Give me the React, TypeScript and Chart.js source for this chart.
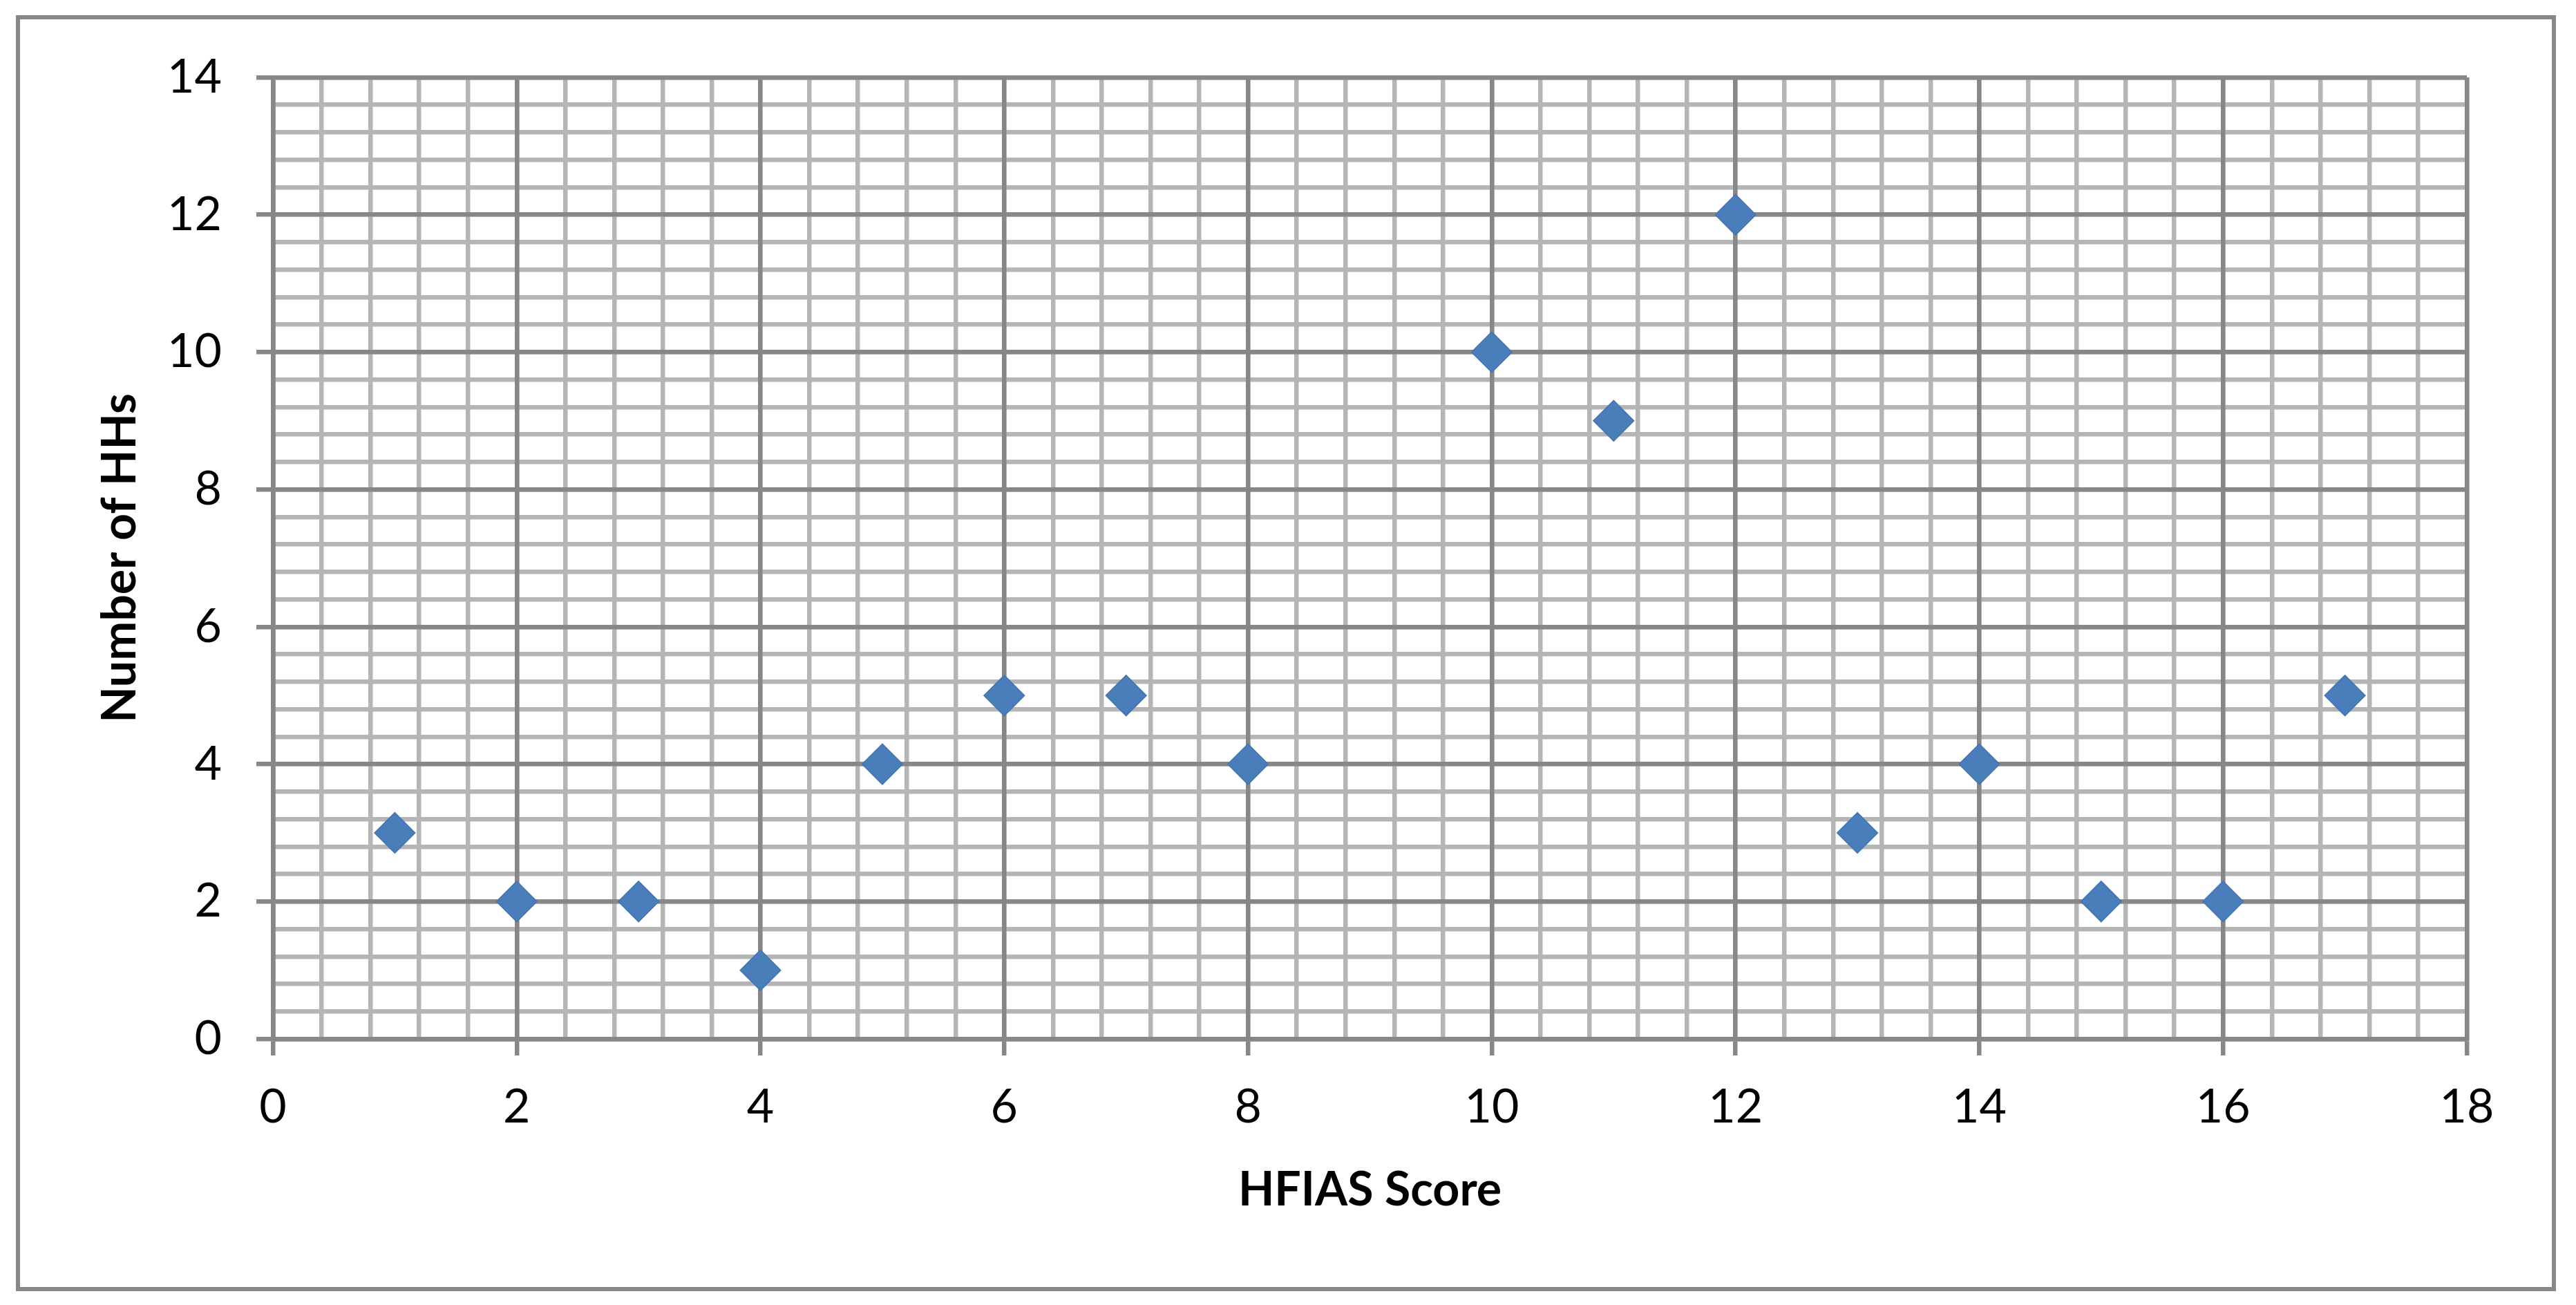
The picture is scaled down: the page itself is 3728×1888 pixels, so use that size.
import React, { useEffect, useRef } from 'react';
import { Chart, registerables } from 'chart.js';

Chart.register(...registerables);

// ---- data ----
const hfiasScores = [1, 2, 3, 4, 5, 6, 7, 8, 10, 11, 12, 13, 14, 15, 16, 17];
const householdCounts = [3, 2, 2, 1, 4, 5, 5, 4, 10, 9, 12, 3, 4, 2, 2, 5];
const xMajorTicks = [0, 2, 4, 6, 8, 10, 12, 14, 16, 18];
const yMajorTicks = [0, 2, 4, 6, 8, 10, 12, 14];
const xTitle = 'HFIAS Score';
const yTitle = 'Number of HHs';

// ---- style ----
const W = 3728;
const H = 1888;
const MAJOR = '#878787';
const MINOR = '#b5b5b5';
const LINE = 6.5;
const MINOR_STEP = 0.4;
const FONT = 'Lato';

const minorTicks = (min: number, max: number) => {
  const out: { value: number }[] = [];
  const n = Math.round((max - min) / MINOR_STEP);
  for (let i = 0; i <= n; i++) out.push({ value: min + i * MINOR_STEP });
  return out;
};

const framePlugin = {
  id: 'frame',
  beforeDraw(chart: any) {
    const { ctx } = chart;
    ctx.save();
    ctx.fillStyle = '#ffffff';
    ctx.fillRect(0, 0, chart.width, chart.height);
    ctx.strokeStyle = MAJOR;
    ctx.lineWidth = 6;
    ctx.strokeRect(26, 25, 3670, 1840);
    ctx.restore();
  },
};

export default function App() {
  const canvasRef = useRef<HTMLCanvasElement | null>(null);

  useEffect(() => {
    const canvas = canvasRef.current;
    if (!canvas) return;
    const chart = new Chart(canvas, {
      type: 'scatter',
      data: {
        datasets: [
          {
            label: 'HHs',
            data: hfiasScores.map((x, i) => ({ x, y: householdCounts[i] })),
            xAxisID: 'x',
            yAxisID: 'y',
            pointStyle: 'rectRot',
            pointRadius: 29,
            pointBorderWidth: 2,
            backgroundColor: '#4a7ebb',
            borderColor: '#4677b5',
            showLine: false,
          },
        ],
      },
      options: {
        responsive: false,
        animation: false,
        events: [],
        devicePixelRatio: 1,
        layout: { padding: { top: 112, right: 158, bottom: 0, left: 0 } },
        plugins: {
          legend: { display: false },
          tooltip: { enabled: false },
          title: { display: false },
        },
        scales: {
          xMinor: {
            type: 'linear',
            position: 'bottom',
            min: 0,
            max: 18,
            afterBuildTicks: (s: any) => {
              s.ticks = minorTicks(0, 18);
            },
            afterFit: (s: any) => {
              s.height = 0;
            },
            ticks: { display: false, autoSkip: false },
            grid: { color: MINOR, lineWidth: LINE, drawTicks: false, z: -2 },
            border: { display: false },
          },
          yMinor: {
            type: 'linear',
            position: 'left',
            min: 0,
            max: 14,
            afterBuildTicks: (s: any) => {
              s.ticks = minorTicks(0, 14);
            },
            afterFit: (s: any) => {
              s.width = 0;
            },
            ticks: { display: false, autoSkip: false },
            grid: { color: MINOR, lineWidth: LINE, drawTicks: false, z: -2 },
            border: { display: false },
          },
          x: {
            type: 'linear',
            position: 'bottom',
            min: 0,
            max: 18,
            afterBuildTicks: (s: any) => {
              s.ticks = xMajorTicks.map((v) => ({ value: v }));
            },
            afterFit: (s: any) => {
              s.height = 385;
            },
            grid: {
              color: MAJOR,
              lineWidth: LINE,
              tickLength: 24,
              tickColor: MAJOR,
              tickWidth: LINE,
              z: -1,
            },
            border: { color: MAJOR, width: LINE },
            ticks: {
              color: '#000000',
              font: { family: FONT, size: 68 },
              padding: 34,
              autoSkip: false,
              maxRotation: 0,
              minRotation: 0,
            },
            title: {
              display: true,
              text: xTitle,
              color: '#000000',
              font: { family: FONT, size: 68, weight: 'bold', lineHeight: 1 },
              padding: { top: 0, bottom: 132 },
            },
          },
          y: {
            type: 'linear',
            position: 'left',
            min: 0,
            max: 14,
            afterBuildTicks: (s: any) => {
              s.ticks = yMajorTicks.map((v) => ({ value: v }));
            },
            afterFit: (s: any) => {
              s.width = 395;
            },
            grid: {
              color: MAJOR,
              lineWidth: LINE,
              tickLength: 24,
              tickColor: MAJOR,
              tickWidth: LINE,
              z: -1,
            },
            border: { color: MAJOR, width: LINE },
            ticks: {
              color: '#000000',
              font: { family: FONT, size: 68 },
              padding: 50,
              autoSkip: false,
            },
            title: {
              display: true,
              text: yTitle,
              color: '#000000',
              font: { family: FONT, size: 68, weight: 'bold', lineHeight: 1 },
              padding: { top: 140, bottom: 0 },
            },
          },
        },
      } as any,
      plugins: [framePlugin],
    });

    let alive = true;
    if ((document as any).fonts) {
      Promise.all([
        (document as any).fonts.load(`68px ${FONT}`),
        (document as any).fonts.load(`bold 68px ${FONT}`),
      ])
        .then(() => {
          if (alive) chart.update();
        })
        .catch(() => {});
    }

    return () => {
      alive = false;
      chart.destroy();
    };
  }, []);

  return (
    <canvas
      ref={canvasRef}
      width={W}
      height={H}
      style={{ position: 'absolute', left: 0, top: 0, width: W, height: H }}
    />
  );
}
